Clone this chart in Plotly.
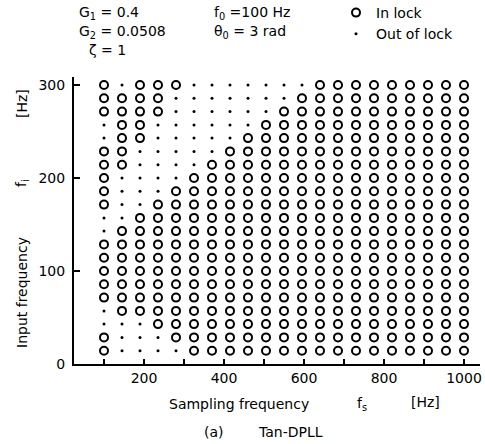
import plotly.graph_objects as go

# Sampling frequencies (columns) in Hz
fs_values = [100, 145, 190, 235, 280, 325, 370, 415, 460, 505, 550,
             595, 640, 685, 730, 775, 820, 865, 910, 955, 1000]
# Input frequencies (rows) in Hz, top row first
fi_values = [300, 285.7, 271.4, 257.1, 242.9, 228.6, 214.3, 200, 185.7, 171.4,
             157.1, 142.9, 128.6, 114.3, 100, 85.7, 71.4, 57.1, 42.9, 28.6, 14.3]
# Lock state per row (top row first): 'O' = in lock, '.' = out of lock
lock_rows = [
    "O.OOO.......OOOOOOOOO",
    "OOOO.......OOOOOOOOOO",
    "OOOO......OOOOOOOOOOO",
    ".OO......OOOOOOOOOOOO",
    ".OO.....OOOOOOOOOOOOO",
    "OO.....OOOOOOOOOOOOOO",
    "OO....OOOOOOOOOOOOOOO",
    "O....OOOOOOOOOOOOOOOO",
    "O...OOOOOOOOOOOOOOOOO",
    "O..OOOOOOOOOOOOOOOOOO",
    "..OOOOOOOOOOOOOOOOOOO",
    ".OOOOOOOOOOOOOOOOOOOO",
    "OOOOOOOOOOOOOOOOOOOOO",
    "OOOOOOOOOOOOOOOOOOOOO",
    "OOOOOOOOOOOOOOOOOOOOO",
    "OOOOOOOOOOOOOOOOOOOOO",
    "OOOOOOOOOOOOOOOOOOOOO",
    ".OOOOOOOOOOOOOOOOOOOO",
    "...OOOOOOOOOOOOOOOOOO",
    "O...OOOOOOOOOOOOOOOOO",
    "O....OOOOOOOOOOOOOOOO",
]
x_tick_vals = [200, 400, 600, 800, 1000]
x_tick_text = ["200", "400", "600", "800", "1000"]
x_minor_vals = [100, 300, 500, 700, 900]
y_tick_vals = [0, 100, 200, 300]
y_tick_text = ["0", "100", "200", "300"]

in_x, in_y, out_x, out_y = [], [], [], []
for fi, row in zip(fi_values, lock_rows):
    for fs, c in zip(fs_values, row):
        if c == "O":
            in_x.append(fs); in_y.append(fi)
        else:
            out_x.append(fs); out_y.append(fi)

FONT = "DejaVu Sans"
FS = 14
W, H = 485, 444
L, R, T, B = 74, 5, 77, 80
PW, PH = W - L - R, H - T - B

fig = go.Figure()
fig.add_trace(go.Scatter(
    x=in_x, y=in_y, mode="markers", name="In lock",
    marker=dict(symbol="circle-open", size=8, color="black",
                line=dict(width=2, color="black"))))
fig.add_trace(go.Scatter(
    x=out_x, y=out_y, mode="markers", name="Out of lock",
    marker=dict(symbol="circle", size=3, color="black")))


def px(xp):
    return (xp - L) / PW


def py(yp):
    return (H - B - yp) / PH


annos = []


def add(text, xp, yp, xanchor="left", size=FS, angle=0):
    annos.append(dict(text=text, x=px(xp), y=py(yp), xref="paper", yref="paper",
                      xanchor=xanchor, yanchor="middle", showarrow=False,
                      textangle=angle, font=dict(family=FONT, size=size, color="black")))


add("G<sub>1</sub> = 0.4", 77, 13)
add("G<sub>2</sub> = 0.0508", 77, 32)
add("ζ = 1", 87, 50)
add("f<sub>0</sub> =100 Hz", 212, 13)
add("θ<sub>0</sub> = 3 rad", 212, 32)
add("Sampling frequency", 239, 404, xanchor="center")
add("f<sub>s</sub>", 362, 404, xanchor="center")
add("[Hz]", 425, 402, xanchor="center")
add("(a)", 214, 432, xanchor="center")
add("Tan-DPLL", 290, 432, xanchor="center")
add("Input frequency", 22, 292, xanchor="center", angle=-90)
add("f<sub>i</sub>", 22, 183, xanchor="center", angle=-90)
add("[Hz]", 22, 103, xanchor="center", angle=-90)

fig.update_layout(
    width=W, height=H,
    margin=dict(l=L, r=R, t=T, b=B, autoexpand=False),
    paper_bgcolor="white", plot_bgcolor="white",
    font=dict(family=FONT, size=FS, color="black"),
    annotations=annos,
    showlegend=True,
    legend=dict(x=px(336), y=py(-3), xanchor="left", yanchor="top",
                bgcolor="rgba(0,0,0,0)", font=dict(family=FONT, size=FS),
                tracegroupgap=0),
    xaxis=dict(range=[25, 1040], showgrid=False, zeroline=False,
               showline=True, linecolor="black", linewidth=2,
               ticks="inside", ticklen=5, tickwidth=1.5, tickcolor="black",
               tickvals=x_tick_vals, ticktext=x_tick_text,
               tickfont=dict(family=FONT, size=FS),
               minor=dict(tickvals=x_minor_vals, ticks="inside", ticklen=5,
                          tickwidth=1.5, tickcolor="black", showgrid=False)),
    yaxis=dict(range=[0, 308.6], showgrid=False, zeroline=False,
               showline=True, linecolor="black", linewidth=2,
               ticks="inside", ticklen=6, tickwidth=1.5, tickcolor="black",
               tickvals=y_tick_vals, ticktext=y_tick_text,
               tickfont=dict(family=FONT, size=FS), ticklabelstandoff=4),
)

fig.write_html("out.html")
